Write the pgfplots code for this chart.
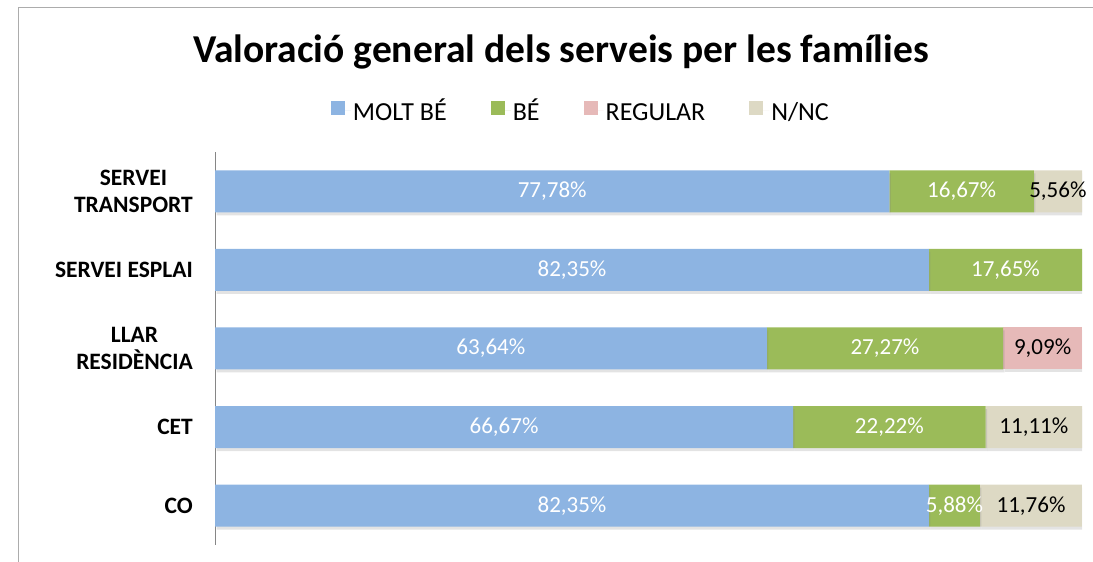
\documentclass[border=0pt]{standalone}
\usepackage{pgfplots}
\pgfplotsset{compat=1.18}
\usepackage{pgfplotstable}
\usepackage{fontspec}
\setmainfont{Carlito}
\usetikzlibrary{shadows}
\definecolor{cBlue}{HTML}{8DB4E2}
\definecolor{cGreen}{HTML}{9BBB59}
\definecolor{cPink}{HTML}{E6B9B8}
\definecolor{cBeige}{HTML}{DDD9C4}
\definecolor{cAxis}{HTML}{868686}

\pgfplotstableread{
y moltbe be regular nnc
4 77.78 16.67 0    5.56
3 82.35 17.65 0    0
2 63.64 27.27 9.09 0
1 66.67 22.22 0    11.11
0 82.35 5.88  0    11.76
}\databars

\pgfplotstableread{
x y label
38.89  4 77,78\%
86.115 4 16,67\%
41.175 3 82,35\%
91.175 3 17,65\%
31.82  2 63,64\%
77.275 2 27,27\%
33.335 1 66,67\%
77.78  1 22,22\%
41.175 0 82,35\%
85.29  0 5,88\%
}\labelswhite

\pgfplotstableread{
x y label
97.22  4 5,56\%
95.455 2 9,09\%
94.445 1 11,11\%
94.12  0 11,76\%
}\labelsblack

\newcommand{\lgs}{\vphantom{ÉQg}}

\begin{document}
\begin{tikzpicture}
\useasboundingbox (0pt,0pt) rectangle (1093pt,562pt);
\draw[gray!65, line width=1pt] (18pt,0pt) -- (18pt,554pt) -- (1093pt,554pt);
\node[anchor=base, font=\fontsize{39.5}{42}\selectfont\bfseries] at (561pt,499pt) {Valoració general dels serveis per les famílies};
\begin{axis}[
  at={(215pt,17pt)}, anchor=south west,
  scale only axis, width=867pt, height=393pt,
  xbar stacked, bar width=42pt,
  xmin=0, xmax=100, ymin=-0.5, ymax=4.5,
  axis x line=none,
  axis y line*=left,
  y axis line style={draw=cAxis, line width=1pt},
  xtick=\empty,
  ytick={0,1,2,3,4},
  yticklabels={CO, CET, {LLAR\\RESIDÈNCIA}, {SERVEI ESPLAI}, {SERVEI\\TRANSPORT}},
  major tick length=0pt,
  yticklabel style={align=center, inner sep=0pt, anchor=east, xshift=-22pt,
    font=\fontsize{23.5}{27}\selectfont\bfseries},
  legend columns=4,
  legend image code/.code={\fill[#1] (0pt,-5pt) rectangle (14pt,9pt); \path (0pt,0pt) -- (20pt,0pt);},
  legend style={draw=none, fill=none, at={(0.422,1.106)}, anchor=center,
    font=\fontsize{26}{28}\selectfont,
    /tikz/every even column/.append style={column sep=42pt}},
  bar shadow/.style={draw=none, drop shadow={shadow xshift=1.5pt, shadow yshift=-3pt, opacity=0.22}},
]
\addplot[fill=cBlue, bar shadow, forget plot] table[x=moltbe, y=y] {\databars};
\addplot[fill=cGreen, bar shadow, forget plot] table[x=be, y=y] {\databars};
\addplot[fill=cPink, bar shadow, forget plot] table[x=regular, y=y] {\databars};
\addplot[fill=cBeige, bar shadow, forget plot] table[x=nnc, y=y] {\databars};
\addlegendimage{fill=cBlue, draw=none}
\addlegendentry{\lgs MOLT BÉ}
\addlegendimage{fill=cGreen, draw=none}
\addlegendentry{\lgs BÉ}
\addlegendimage{fill=cPink, draw=none}
\addlegendentry{\lgs REGULAR}
\addlegendimage{fill=cBeige, draw=none}
\addlegendentry{\lgs N/NC}
\end{axis}
\begin{axis}[
  at={(215pt,17pt)}, anchor=south west,
  scale only axis, width=867pt, height=393pt,
  xmin=0, xmax=100, ymin=-0.5, ymax=4.5,
  hide axis, clip=false,
]
\addplot[only marks, mark=none, point meta=explicit symbolic,
  nodes near coords,
  every node near coord/.style={anchor=center, text=white, font=\fontsize{23}{25}\selectfont}]
  table[x=x, y=y, meta=label] {\labelswhite};
\addplot[only marks, mark=none, point meta=explicit symbolic,
  nodes near coords,
  every node near coord/.style={anchor=center, text=black, font=\fontsize{23}{25}\selectfont}]
  table[x=x, y=y, meta=label] {\labelsblack};
\end{axis}
\end{tikzpicture}
\end{document}
